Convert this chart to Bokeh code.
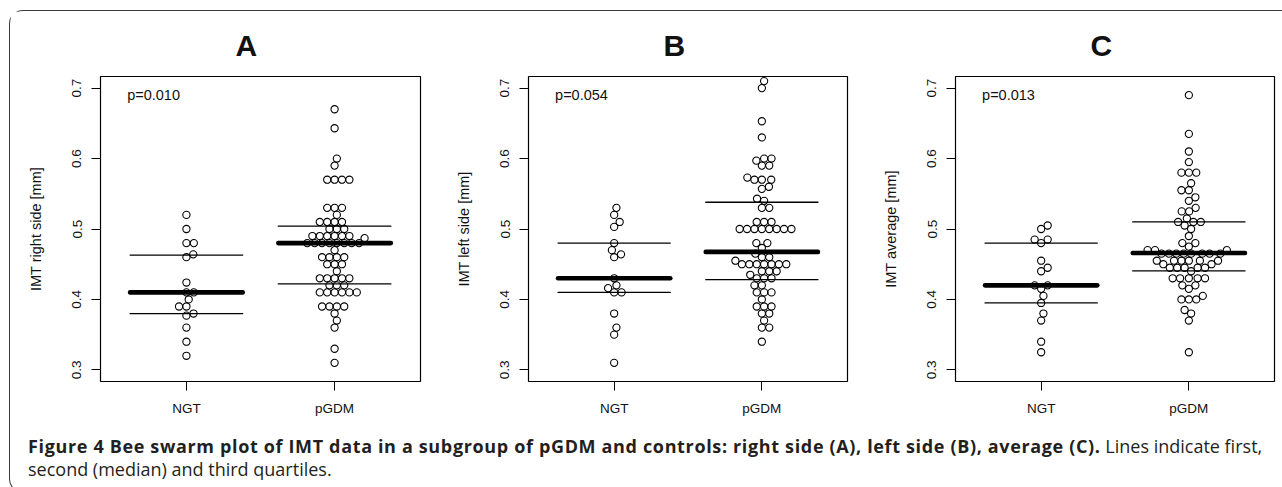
import numpy as np
from bokeh.plotting import figure
from bokeh.layouts import row, column
from bokeh.models import Div, FixedTicker, ColumnDataSource
from bokeh.core.properties import value
from bokeh.embed import file_html
from bokeh.resources import INLINE

# ---------------- data ----------------
groups = ["NGT", "pGDM"]
panel_letters = ["A", "B", "C"]
y_labels = ["IMT right side [mm]", "IMT left side [mm]", "IMT average [mm]"]
p_values = ["p=0.010", "p=0.054", "p=0.013"]
y_ticks = [0.3, 0.4, 0.5, 0.6, 0.7]

right_ngt = [0.52, 0.50, 0.48, 0.48, 0.464, 0.46, 0.424, 0.41, 0.41, 0.40,
             0.39, 0.39, 0.38, 0.377, 0.36, 0.34, 0.32]
right_pgdm = [0.67, 0.643, 0.60, 0.59, 0.57, 0.57, 0.57, 0.57, 0.53, 0.53, 0.53,
              0.52, 0.51, 0.51, 0.51, 0.51, 0.50, 0.50, 0.50,
              0.49, 0.49, 0.49, 0.49, 0.49, 0.49, 0.487,
              0.48, 0.48, 0.48, 0.48, 0.48, 0.48, 0.48, 0.48, 0.47,
              0.46, 0.46, 0.46, 0.46, 0.45, 0.45, 0.45, 0.44,
              0.43, 0.43, 0.43, 0.43, 0.43, 0.42, 0.42, 0.42,
              0.41, 0.41, 0.41, 0.41, 0.41, 0.41,
              0.39, 0.39, 0.39, 0.39, 0.38, 0.37, 0.36, 0.33, 0.31]

left_ngt = [0.53, 0.52, 0.51, 0.503, 0.48, 0.47, 0.464, 0.46, 0.43, 0.42,
            0.416, 0.41, 0.41, 0.38, 0.36, 0.35, 0.31]
left_pgdm = [0.71, 0.70, 0.653, 0.63, 0.60, 0.60, 0.597, 0.59, 0.59,
             0.573, 0.57, 0.57, 0.57, 0.56, 0.557, 0.543, 0.54, 0.53, 0.53,
             0.51, 0.51, 0.51, 0.50, 0.50, 0.50, 0.50, 0.50, 0.50, 0.50, 0.50,
             0.48, 0.48, 0.473, 0.465, 0.46, 0.46, 0.455,
             0.45, 0.45, 0.45, 0.45, 0.45, 0.45, 0.45,
             0.44, 0.44, 0.44, 0.435, 0.43, 0.43, 0.43,
             0.42, 0.42, 0.41, 0.41, 0.41, 0.40, 0.39, 0.39, 0.39,
             0.38, 0.38, 0.37, 0.36, 0.36, 0.34]

avg_ngt = [0.505, 0.50, 0.485, 0.485, 0.48, 0.455, 0.445, 0.44, 0.42, 0.42,
           0.415, 0.405, 0.395, 0.38, 0.37, 0.34, 0.325]
avg_pgdm = [0.69, 0.635, 0.61, 0.595, 0.58, 0.58, 0.58, 0.565, 0.555, 0.555,
            0.545, 0.54, 0.53, 0.525, 0.525, 0.515, 0.51, 0.51, 0.51, 0.505,
            0.50, 0.49, 0.48, 0.48, 0.475, 0.47, 0.47, 0.47,
            0.465, 0.465, 0.465, 0.465, 0.465, 0.465, 0.465, 0.465,
            0.455, 0.455, 0.455, 0.455, 0.455, 0.455, 0.45, 0.45,
            0.445, 0.445, 0.445, 0.445, 0.445, 0.44,
            0.43, 0.43, 0.43, 0.43, 0.43, 0.42, 0.42, 0.415, 0.405,
            0.40, 0.40, 0.40, 0.385, 0.38, 0.37, 0.325]

# first quartile, median, third quartile
right_ngt_q = [0.380, 0.410, 0.463]
right_pgdm_q = [0.422, 0.480, 0.504]
left_ngt_q = [0.410, 0.430, 0.480]
left_pgdm_q = [0.428, 0.4675, 0.538]
avg_ngt_q = [0.395, 0.420, 0.480]
avg_pgdm_q = [0.4405, 0.466, 0.510]

caption_bold = ("Figure 4 Bee swarm plot of IMT data in a subgroup of pGDM and controls: "
                "right side (A), left side (B), average (C).")
caption_rest_1 = "Lines indicate first,"
caption_rest_2 = "second (median) and third quartiles."

# ---------------- layout constants ----------------
X_RANGE = (0.42, 2.58)
Y_RANGE = (0.2835, 0.7165)
FRAME_H = 305
TOP_B, BOT_B = 65, 46
LEFT_B = 90
MARK_PX = 7.4          # swarm spacing in screen pixels
FONT = "Liberation Sans"


def swarm_offsets(vals, dy_unit, dx_unit):
    """beeswarm 'swarm' method: ascending priority, both sides."""
    v = np.asarray(vals, float)
    order = np.argsort(v, kind="stable")
    yn = v[order] / dy_unit
    px_list, py_list = [], []
    for yi in yn:
        py = np.array(py_list)
        px = np.array(px_list)
        best = 0.0
        if len(py):
            near = np.abs(yi - py) < 1
            if near.any():
                pre_y, pre_x = py[near], px[near]
                off = np.sqrt(1 - (yi - pre_y) ** 2)
                cands = np.concatenate([[0.0], pre_x + off, pre_x - off])
                bad = np.array([np.any((yi - pre_y) ** 2 + (c - pre_x) ** 2 < 0.999)
                                for c in cands])
                a = np.where(bad, np.inf, np.abs(cands))
                best = cands[int(np.argmin(a))]
        py_list.append(yi)
        px_list.append(best)
    out = np.empty(len(v))
    out[order] = np.array(px_list) * dx_unit
    return out


def make_panel(idx, ngt, pgdm, q_ngt, q_pgdm, frame_w, right_b):
    width = LEFT_B + frame_w + right_b
    height = TOP_B + FRAME_H + BOT_B
    p = figure(width=width, height=height, x_range=X_RANGE, y_range=Y_RANGE,
               output_backend="svg", toolbar_location=None,
               min_border_left=LEFT_B, min_border_right=right_b,
               min_border_top=TOP_B, min_border_bottom=BOT_B,
               background_fill_color="white", border_fill_color="white")
    p.title.text = panel_letters[idx]
    p.title.text_font = FONT
    p.title.text_font_size = "30px"
    p.title.text_font_style = "bold"
    p.title.text_color = "#111111"
    p.title.align = "left"
    p.title.offset = 135
    p.title.standoff = 30

    p.outline_line_color = "black"
    p.outline_line_width = 1.2
    p.xgrid.visible = False
    p.ygrid.visible = False

    for ax in (p.xaxis[0], p.yaxis[0]):
        ax.axis_line_color = None
        ax.major_tick_in = 0
        ax.major_tick_out = 9
        ax.major_tick_line_color = "black"
        ax.major_tick_line_width = 1
        ax.minor_tick_line_color = None
        ax.major_label_text_font = FONT
        ax.major_label_text_font_size = "13.5px"
        ax.major_label_text_color = "#111111"

    p.xaxis.ticker = FixedTicker(ticks=[1, 2])
    p.xaxis.major_label_overrides = {1: groups[0], 2: groups[1]}
    p.xaxis.major_label_standoff = 10

    p.yaxis.ticker = FixedTicker(ticks=y_ticks)
    p.yaxis.major_label_orientation = "vertical"
    p.yaxis.major_label_standoff = 10
    p.yaxis.axis_label = y_labels[idx]
    p.yaxis.axis_label_text_font = FONT
    p.yaxis.axis_label_text_font_size = "14.5px"
    p.yaxis.axis_label_text_font_style = "normal"
    p.yaxis.axis_label_text_color = "#111111"
    p.yaxis.axis_label_standoff = 26

    x_px = frame_w / (X_RANGE[1] - X_RANGE[0])
    y_px = FRAME_H / (Y_RANGE[1] - Y_RANGE[0])
    dy_unit = MARK_PX / y_px
    dx_unit = MARK_PX / x_px

    for gpos, vals, q in ((1, ngt, q_ngt), (2, pgdm, q_pgdm)):
        offs = swarm_offsets(vals, dy_unit, dx_unit)
        src = ColumnDataSource(dict(x=gpos + offs, y=vals))
        p.scatter("x", "y", source=src, marker="circle", size=7.2,
                  fill_color=None, line_color="black", line_width=1.1)
        qs = ColumnDataSource(dict(x0=[gpos - 0.38] * 3, x1=[gpos + 0.38] * 3,
                                   y=q, lw=[1.3, 4.6, 1.3]))
        p.segment(x0="x0", x1="x1", y0="y", y1="y", line_width="lw",
                  line_color="black", line_cap="round", source=qs)

    p.text(x=[0.6], y=[0.69], text=[p_values[idx]], text_font=value(FONT),
           text_font_size="14.5px", text_align="left", text_baseline="middle",
           text_color="#111111")
    return p


pa = make_panel(0, right_ngt, right_pgdm, right_ngt_q, right_pgdm_q, 320, 18)
pb = make_panel(1, left_ngt, left_pgdm, left_ngt_q, left_pgdm_q, 319, 18)
pc = make_panel(2, avg_ngt, avg_pgdm, avg_ngt_q, avg_pgdm_q, 319, 4)

caption_html = (
    '<div style="padding:3px 0 0 13px; font-family:\'Open Sans\', sans-serif; '
    'font-size:18px; line-height:23px; color:#231f20; white-space:nowrap;">'
    f'<b style="letter-spacing:0.65px;">{caption_bold}</b> {caption_rest_1}'
    f'<br>{caption_rest_2}</div>'
)
caption = Div(text=caption_html, width=1268, height=55)

frame_styles = {
    "border-left": "1.5px solid #3a3a3a",
    "border-top": "1.5px solid #3a3a3a",
    "border-bottom": "1.5px solid #3a3a3a",
    "border-top-left-radius": "14px",
    "border-bottom-left-radius": "14px",
}
layout = column(row(pa, pb, pc), caption, styles=frame_styles, margin=(10, 0, 0, 9))

with open("out.html", "w") as f:
    f.write(file_html(layout, INLINE, title="Figure 4"))
